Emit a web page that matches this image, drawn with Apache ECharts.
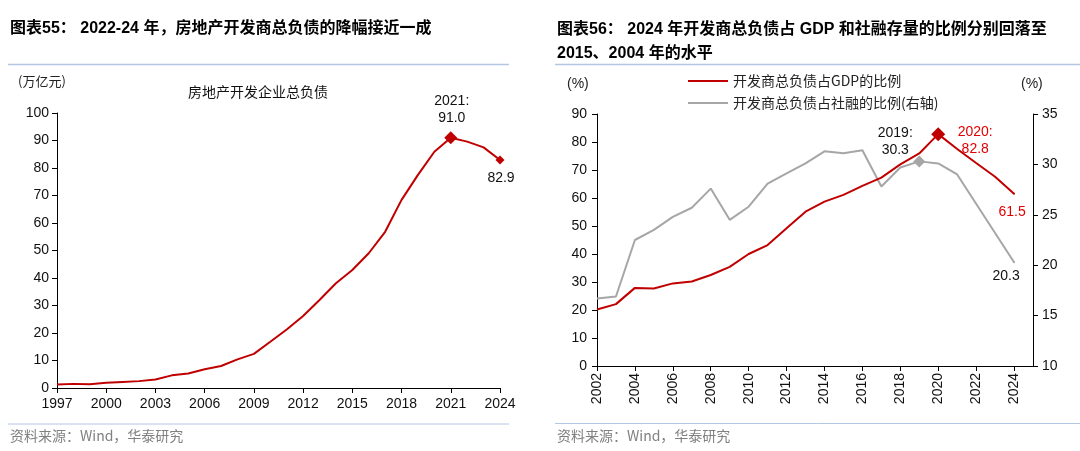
<!DOCTYPE html>
<html>
<head>
<meta charset="utf-8">
<script src="https://cdn.jsdelivr.net/npm/echarts@6/dist/echarts.min.js"></script>
<style>
  html, body { margin: 0; padding: 0; background: #fff; }
  #main { width: 1080px; height: 451px; }
</style>
</head>
<body>
<div id="main"></div>
<script>
// 图表55 数据：房地产开发企业总负债（万亿元）
var yearsA = ['1997', '1998', '1999', '2000', '2001', '2002', '2003', '2004', '2005', '2006',
    '2007', '2008', '2009', '2010', '2011', '2012', '2013', '2014', '2015', '2016',
    '2017', '2018', '2019', '2020', '2021', '2022', '2023', '2024'];
var debtA = [1.3, 1.5, 1.4, 1.9, 2.2, 2.5, 3.1, 4.6, 5.3, 6.8,
    8.0, 10.4, 12.4, 16.8, 21.3, 26.2, 32.0, 38.1, 42.9, 49.0,
    56.8, 68.4, 77.5, 85.9, 91.0, 89.6, 87.5, 82.9];

// 图表56 数据：占GDP比例（左轴）、占社融比例（右轴），最后一个空类目只用来延长坐标轴
var yearsB = ['2002', '2003', '2004', '2005', '2006', '2007', '2008', '2009', '2010', '2011',
    '2012', '2013', '2014', '2015', '2016', '2017', '2018', '2019', '2020', '2021',
    '2022', '2023', '2024', ''];
var gdpRatio = [20.2, 22.1, 27.9, 27.7, 29.5, 30.2, 32.5, 35.4, 40.0, 43.2,
    49.2, 55.1, 58.7, 61.1, 64.3, 67.3, 72.0, 75.9, 82.8, 77.5,
    72.5, 67.6, 61.5];
var tsfRatio = [16.7, 16.9, 22.5, 23.5, 24.8, 25.7, 27.6, 24.5, 25.8, 28.1,
    29.1, 30.1, 31.3, 31.1, 31.4, 27.8, 29.7, 30.3, 30.1, 29.0,
    26.1, 23.2, 20.3];

var RED = '#C00000';
var GRAY = '#A6A6A6';
var FONT = "'Liberation Sans', 'Noto Sans CJK SC', sans-serif";
var CJK = "'Noto Sans CJK SC', 'Liberation Sans', sans-serif";
var SEP = '#B4C6E4';

// 简单的 extend
var extend = function (a, b, c) {
    [b, c].forEach(function (o) {
        for (var k in o) { if (o && o.hasOwnProperty(k)) { a[k] = o[k]; } }
    });
    return a;
};

var labelBase = {
    show: true,
    position: 'inside',
    align: 'center',
    verticalAlign: 'middle',
    fontFamily: FONT,
    fontSize: 14,
    lineHeight: 17,
    color: '#111'
};

// 把数组转成折线数据，特殊点加菱形和标注
var buildData = function (values, years, marks, lineColor) {
    return values.map(function (v, i) {
        var m = marks[years[i]];
        if (!m) {
            return { value: v, symbol: 'none' };
        }
        return {
            value: v,
            // 没有菱形的点用一个被线盖住的小圆点来挂标注
            symbol: m.size ? 'diamond' : 'circle',
            symbolSize: m.size || 2,
            itemStyle: { color: lineColor },
            label: extend({}, labelBase, {
                offset: m.offset,
                color: m.color || '#111',
                formatter: m.withYear ? years[i] + ':\n' + v.toFixed(1) : v.toFixed(1)
            })
        };
    });
};

var axisLine = { lineStyle: { color: '#000', width: 1 } };
var axisTick = { inside: false, length: 5, lineStyle: { color: '#000' } };
var tickLabel = { color: '#111', fontFamily: FONT, fontSize: 14 };

var chart = echarts.init(document.getElementById('main'), null, { renderer: 'canvas' });

var option = {
    animation: false,
    backgroundColor: '#fff',
    grid: [
        { left: 57, top: 113, width: 443, height: 275 },
        { left: 597, top: 114, width: 436, height: 252 }
    ],
    legend: {
        left: 683,
        top: 69,
        orient: 'vertical',
        icon: 'rect',
        itemWidth: 40,
        itemHeight: 2,
        itemGap: 8,
        textStyle: { fontFamily: CJK, fontSize: 14, color: '#222' },
        data: ['开发商总负债占GDP的比例', '开发商总负债占社融的比例(右轴)']
    },
    xAxis: [{
        gridIndex: 0,
        type: 'category',
        data: yearsA,
        boundaryGap: false,
        axisLine: axisLine,
        axisTick: extend({}, axisTick, { interval: 2 }),
        axisLabel: extend({}, tickLabel, { interval: 2, margin: 9 })
    }, {
        gridIndex: 1,
        type: 'category',
        data: yearsB,
        boundaryGap: false,
        axisLine: axisLine,
        axisTick: extend({}, axisTick, { interval: 1 }),
        axisLabel: extend({}, tickLabel, { interval: 1, rotate: 90, margin: 7 })
    }],
    yAxis: [{
        gridIndex: 0,
        type: 'value',
        min: 0, max: 100, interval: 10,
        axisLine: extend({ show: true }, axisLine),
        axisTick: extend({ show: true }, axisTick),
        axisLabel: extend({}, tickLabel, { margin: 8 }),
        splitLine: { show: false }
    }, {
        gridIndex: 1,
        type: 'value',
        min: 0, max: 90, interval: 10,
        axisLine: extend({ show: true }, axisLine),
        axisTick: extend({ show: true }, axisTick),
        axisLabel: extend({}, tickLabel, { margin: 10 }),
        splitLine: { show: false }
    }, {
        gridIndex: 1,
        type: 'value',
        position: 'right',
        min: 10, max: 35, interval: 5,
        axisLine: extend({ show: true }, axisLine),
        axisTick: extend({ show: true }, axisTick),
        axisLabel: extend({}, tickLabel, { margin: 9 }),
        splitLine: { show: false }
    }],
    series: [{
        name: '房地产开发企业总负债',
        type: 'line',
        xAxisIndex: 0, yAxisIndex: 0,
        showSymbol: true,
        showAllSymbol: true,
        symbol: 'none',
        lineStyle: { color: RED, width: 2 },
        itemStyle: { color: RED },
        data: buildData(debtA, yearsA, {
            '2021': { size: 13, withYear: true, offset: [1, -28] },
            '2024': { size: 9, offset: [1, 18] }
        }, RED)
    }, {
        name: '开发商总负债占社融的比例(右轴)',
        type: 'line',
        xAxisIndex: 1, yAxisIndex: 2,
        showSymbol: true,
        showAllSymbol: true,
        symbol: 'none',
        lineStyle: { color: GRAY, width: 2 },
        itemStyle: { color: GRAY },
        data: buildData(tsfRatio, yearsB, {
            '2019': { size: 12, withYear: true, offset: [-24, -20] },
            '2024': { offset: [-8, 14] }
        }, GRAY)
    }, {
        name: '开发商总负债占GDP的比例',
        type: 'line',
        xAxisIndex: 1, yAxisIndex: 1,
        showSymbol: true,
        showAllSymbol: true,
        symbol: 'none',
        lineStyle: { color: RED, width: 2 },
        itemStyle: { color: RED },
        data: buildData(gdpRatio, yearsB, {
            '2020': { size: 14, withYear: true, offset: [37, 6], color: '#E00000' },
            '2024': { offset: [-2, 18], color: '#E00000' }
        }, RED)
    }],
    graphic: [
        { type: 'text', left: 10, top: 21, style: { text: '图表55： 2022-24 年，房地产开发商总负债的降幅接近一成', font: 'bold 16px ' + FONT, fill: '#000' } },
        { type: 'text', left: 557, top: 22, style: { text: '图表56： 2024 年开发商总负债占 GDP 和社融存量的比例分别回落至', font: 'bold 16px ' + FONT, fill: '#000' } },
        { type: 'text', left: 557, top: 46, style: { text: '2015、2004 年的水平', font: 'bold 16px ' + FONT, fill: '#000' } },
        { type: 'line', shape: { x1: 8, y1: 64.5, x2: 509, y2: 64.5 }, style: { stroke: SEP, lineWidth: 1.5 } },
        { type: 'line', shape: { x1: 555, y1: 64.5, x2: 1080, y2: 64.5 }, style: { stroke: SEP, lineWidth: 1.5 } },
        { type: 'line', shape: { x1: 8, y1: 424, x2: 509, y2: 424 }, style: { stroke: SEP, lineWidth: 1 } },
        { type: 'line', shape: { x1: 555, y1: 423.5, x2: 1080, y2: 423.5 }, style: { stroke: SEP, lineWidth: 1 } },
        { type: 'text', left: 18, top: 75, style: { text: '(万亿元)', font: '13px ' + CJK, fill: '#222' } },
        { type: 'text', left: 188, top: 85, style: { text: '房地产开发企业总负债', font: '14px ' + CJK, fill: '#111' } },
        { type: 'text', left: 567, top: 77, style: { text: '(%)', font: '14px ' + FONT, fill: '#222' } },
        { type: 'text', left: 1021, top: 77, style: { text: '(%)', font: '14px ' + FONT, fill: '#222' } },
        { type: 'text', left: 10, top: 429, style: { text: '资料来源：Wind，华泰研究', font: '14px ' + CJK, fill: '#808080' } },
        { type: 'text', left: 557, top: 429, style: { text: '资料来源：Wind，华泰研究', font: '14px ' + CJK, fill: '#808080' } }
    ]
};

chart.setOption(option);
</script>
</body>
</html>
